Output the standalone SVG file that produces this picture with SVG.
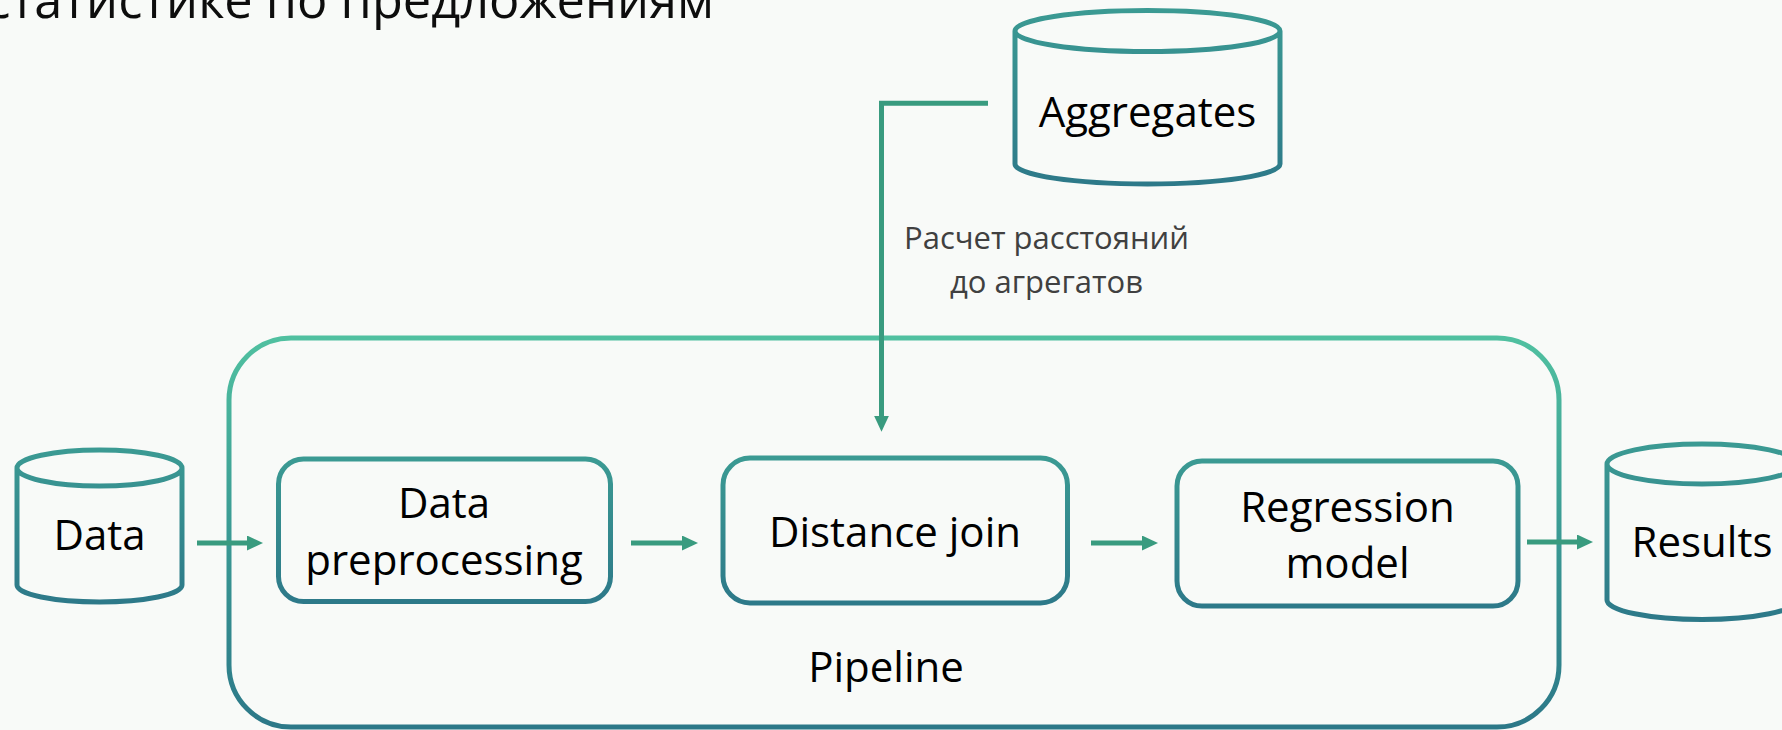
<svg xmlns="http://www.w3.org/2000/svg" width="1782" height="730" viewBox="0 0 1782 730">
  <defs>
    <style>
      .node { fill: none; stroke-width: 5; }
      .label { font-family: "Open Sans", "Noto Sans", "DejaVu Sans", sans-serif; font-size: 42px; fill: #000; text-anchor: middle; }
      .note { font-family: "Open Sans", "Noto Sans", "DejaVu Sans", sans-serif; font-size: 31px; fill: #404040; text-anchor: middle; }
      .title { font-family: "Open Sans", "Noto Sans", "DejaVu Sans", sans-serif; font-size: 50.5px; fill: #0d0d0d; text-anchor: end; }
      .edge { fill: none; stroke: #399b7f; stroke-width: 5; stroke-linejoin: miter; }
    </style>
    <linearGradient id="nodeStroke" x1="0" y1="0" x2="0" y2="1">
      <stop offset="0" stop-color="#3b9a93"/>
      <stop offset="1" stop-color="#2d7989"/>
    </linearGradient>
    <linearGradient id="frameStroke" x1="0" y1="0" x2="0" y2="1">
      <stop offset="0" stop-color="#50c0a0"/>
      <stop offset="0.5" stop-color="#3a9a94"/>
      <stop offset="1" stop-color="#2c7888"/>
    </linearGradient>
    <marker id="arrow" markerUnits="userSpaceOnUse" markerWidth="16" markerHeight="15" refX="2" refY="7.5" orient="auto">
      <path d="M0,0 L16,7.5 L0,15 Z" fill="#399b7f"/>
    </marker>
  </defs>

  <rect width="1782" height="730" fill="#f8faf8"/>

  <!-- heading, partly above the top edge -->
  <text class="title" x="714" y="18">статистике по предложениям</text>

  <!-- pipeline frame -->
  <g id="pipeline">
    <rect x="229" y="338" width="1330" height="389" rx="62" ry="62" fill="none" stroke="url(#frameStroke)" stroke-width="5"/>
    <text class="label" x="886" y="682">Pipeline</text>
  </g>

  <!-- connectors -->
  <g id="connectors">
    <line class="edge" x1="197" y1="543" x2="249" y2="543" marker-end="url(#arrow)"/>
    <line class="edge" x1="631" y1="543" x2="684" y2="543" marker-end="url(#arrow)"/>
    <line class="edge" x1="1091" y1="543" x2="1144" y2="543" marker-end="url(#arrow)"/>
    <line class="edge" x1="1527" y1="542" x2="1579" y2="542" marker-end="url(#arrow)"/>
    <path class="edge" d="M988,103.3 H881.5 V417.7" marker-end="url(#arrow)"/>
    <text class="note" x="1046.5" y="249">Расчет расстояний</text>
    <text class="note" x="1046.5" y="293">до агрегатов</text>
  </g>

  <!-- data stores -->
  <g id="data">
    <path class="node" stroke="url(#nodeStroke)" d="M17,468 A82.5,18 0 1 1 182,468 A82.5,18 0 1 1 17,468 V585 A82.5,17 0 0 0 182,585 V468"/>
    <text class="label" x="99.5" y="550">Data</text>
  </g>

  <g id="aggregates">
    <path class="node" stroke="url(#nodeStroke)" d="M1015,31 A132.5,20.5 0 1 1 1280,31 A132.5,20.5 0 1 1 1015,31 V164 A132.5,20 0 0 0 1280,164 V31"/>
    <text class="label" x="1147.5" y="127">Aggregates</text>
  </g>

  <g id="results">
    <path class="node" stroke="url(#nodeStroke)" d="M1607,464 A95,20 0 1 1 1797,464 A95,20 0 1 1 1607,464 V600 A95,19.5 0 0 0 1797,600 V464"/>
    <text class="label" x="1702" y="557">Results</text>
  </g>

  <!-- processing steps -->
  <g id="preprocessing">
    <rect class="node" stroke="url(#nodeStroke)" x="278.5" y="459" width="332" height="142.5" rx="25" ry="25"/>
    <text class="label" x="444" y="518">Data</text>
    <text class="label" x="444" y="575">preprocessing</text>
  </g>

  <g id="distance-join">
    <rect class="node" stroke="url(#nodeStroke)" x="723" y="458" width="344.5" height="145" rx="27" ry="27"/>
    <text class="label" x="895" y="547">Distance join</text>
  </g>

  <g id="regression">
    <rect class="node" stroke="url(#nodeStroke)" x="1177" y="461" width="341" height="145" rx="25" ry="25"/>
    <text class="label" x="1347.5" y="522">Regression</text>
    <text class="label" x="1347.5" y="578">model</text>
  </g>
</svg>
